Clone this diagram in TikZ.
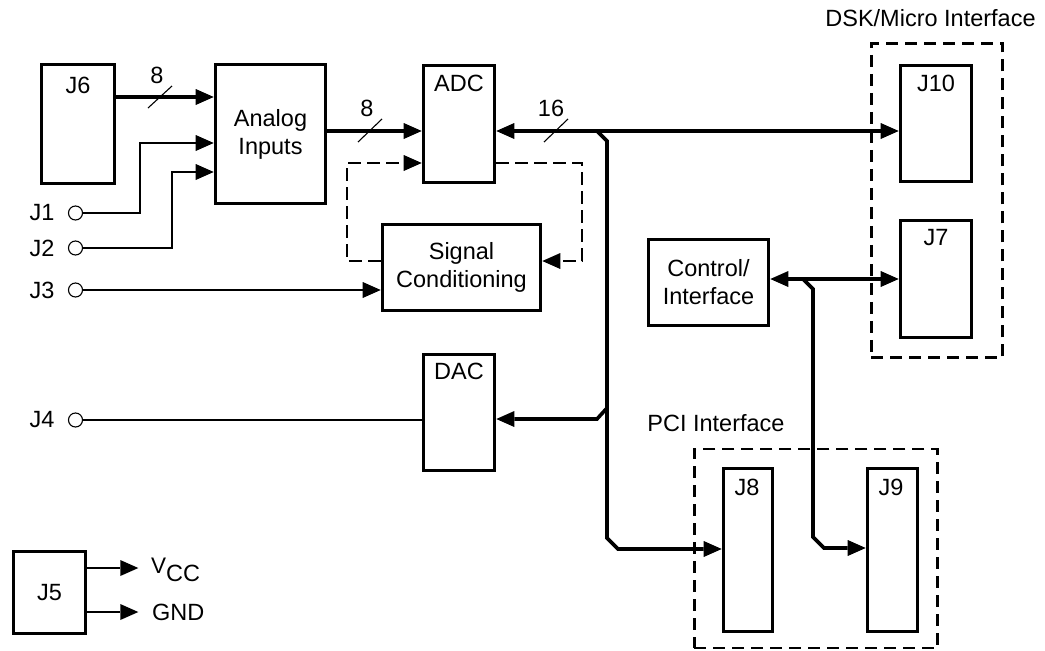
\documentclass[tikz,border=0pt]{standalone}
\usepackage{fontspec}
\setmainfont{Liberation Sans}
\usetikzlibrary{arrows.meta}

\begin{document}
\begin{tikzpicture}[x=1pt,y=-1pt,
  every node/.style={font=\fontsize{23.5}{28}\selectfont, inner sep=0pt},
  blk/.style={draw, line width=3.6pt, rectangle},
  grp/.style={draw, line width=2.6pt, dash pattern=on 12pt off 7pt, rectangle},
  port/.style={draw, line width=1.1pt, circle, minimum size=14pt},
  tip/.tip={Triangle[length=18pt, width=16pt, line width=0pt]},
  bus/.style={line width=3.6pt, line join=miter},
  wire/.style={line width=1.2pt},
  loop/.style={line width=1.2pt, dash pattern=on 13pt off 6pt},
  slash/.style={line width=1.1pt}]

\useasboundingbox (0,0) rectangle (1045,651);

% ---- functional blocks ----
\node[blk, minimum width=73pt,  minimum height=119pt] (j6)   at (78,124)     {};
\node[blk, minimum width=110pt, minimum height=139pt, align=center] (ana) at (270.5,134) {Analog\\Inputs};
\node[blk, minimum width=71pt,  minimum height=117pt] (adc)  at (459,124)    {};
\node[blk, minimum width=158pt, minimum height=86pt, align=center] (sc) at (461.5,267.5) {Signal\\Conditioning};
\node[blk, minimum width=71pt,  minimum height=116pt] (dac)  at (459,412.5)  {};
\node[blk, minimum width=120pt, minimum height=86pt, align=center] (ctrl) at (708.5,282.5) {Control/\\Interface};
\node[blk, minimum width=71pt,  minimum height=116pt] (j10)  at (936,123.5)  {};
\node[blk, minimum width=71pt,  minimum height=117pt] (j7)   at (936,279)    {};
\node[blk, minimum width=49pt,  minimum height=163pt] (j8)   at (748,550)    {};
\node[blk, minimum width=50pt,  minimum height=163pt] (j9)   at (892.5,550)  {};
\node[blk, minimum width=72pt,  minimum height=82pt]  (j5)   at (49.5,592.5) {J5};

% titles at the top of the tall blocks
\node (j6t)  at (78,85)   {J6};
\node (adct) at (459,83)  {ADC};
\node (dact) at (459,371) {DAC};
\node (j10t) at (936,83)  {J10};
\node (j7t)  at (936,238) {J7};
\node (j8t)  at (747,487) {J8};
\node (j9t)  at (891,487) {J9};

% ---- interface groups ----
\node[grp, minimum width=131.5pt, minimum height=314.5pt] (dsk) at (937,200.5) {};
\node (dskt) at (930.5,18) {DSK/Micro Interface};
\node[grp, minimum width=243.5pt, minimum height=199pt] (pci) at (816,548.5) {};
\node (pcit) at (716,423) {PCI Interface};

% ---- analog ports ----
\node[port] (j1c) at (75.5,213) {};
\node[port] (j2c) at (75.5,248) {};
\node[port] (j3c) at (75.5,290) {};
\node[port] (j4c) at (75.5,420) {};
\node (j1l) at (42,213) {J1};
\node (j2l) at (42,248) {J2};
\node (j3l) at (42,290) {J3};
\node (j4l) at (42,420) {J4};

% ---- supply outputs ----
\node[anchor=base west] (vcc) at (151,581) {\raisebox{8pt}{\fontsize{22.5}{22}\selectfont V}CC};
\node[anchor=west] (gnd) at (152,612) {GND};
\draw[wire,-tip] (j5.east |- 0,568) -- ++(51,0);
\draw[wire,-tip] (j5.east |- 0,612) -- ++(51,0);

% ---- buses ----
\draw[bus,-tip] (j6.east |- 0,97) -- (ana.west |- 0,97);
\draw[slash] (148,108) -- (172,86);
\node (w8a) at (157,75) {8};

\draw[bus,-tip] (ana.east |- 0,131) -- (adc.west |- 0,131);
\draw[slash] (358,142) -- (382,119);
\node (w8b) at (367,108) {8};

\draw[bus,tip-tip] (adc.east |- 0,131) -- (j10.west |- 0,131);
\draw[slash] (544,142) -- (568,119);
\node (w16) at (551,108) {16};

\coordinate (tap) at (597,131);
\draw[bus,-tip] (tap) -- ++(10,10) -- (607,538) -- ++(11,11) -- (j8.west |- 0,549);
\draw[bus,-tip] (607,408) -- ++(-10,11) -- (dac.east |- 0,419);

\draw[bus,tip-tip] (ctrl.east |- 0,279) -- (j7.west |- 0,279);
\coordinate (ctap) at (803,279);
\draw[bus,-tip] (ctap) -- ++(10,10) -- (813,537) -- ++(11,11) -- (j9.west |- 0,548);

% ---- analog wiring ----
\draw[wire,-tip] (j1c.east) -| (140,143) -- (ana.west |- 0,143);
\draw[wire,-tip] (j2c.east) -| (172,172) -- (ana.west |- 0,172);
\draw[wire,-tip] (j3c.east) -- (sc.west |- 0,290);
\draw[wire] (j4c.east) -- (dac.west |- 0,420);

% ---- conditioning loop ----
\draw[loop,-tip] (sc.west |- 0,261) -| (347,163) -- (adc.west |- 0,163);
\draw[loop,-tip] (adc.east |- 0,163) -| (582,261) -- (sc.east |- 0,261);

\end{tikzpicture}
\end{document}
